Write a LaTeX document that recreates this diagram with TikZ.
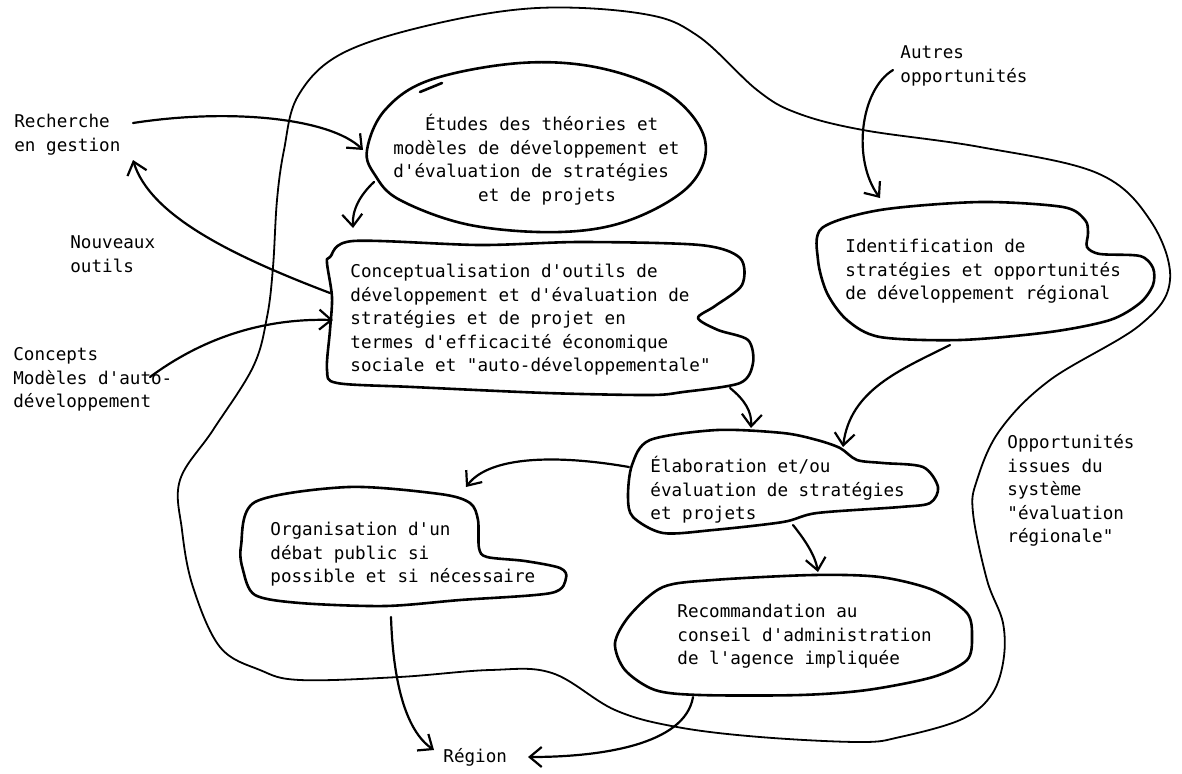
\documentclass[tikz,border=0pt]{standalone}
\usepackage{fontspec}
\setmonofont{DejaVu Sans Mono}
\usetikzlibrary{arrows.meta}
\begin{document}
\begin{tikzpicture}[x=0.5pt,y=-0.5pt,
  txt/.style={font=\fontsize{8.8}{11.75}\selectfont\ttfamily, align=left, inner sep=0pt, anchor=north west},
  blob/.style={line width=1.3pt, line join=round, line cap=round},
  bigloop/.style={line width=0.9pt},
  arr/.style={line width=1.1pt, line cap=round, -{Straight Barb[length=6pt,width=10pt,line width=1.1pt]}},
]
\useasboundingbox (0,0) rectangle (1182,773);

% outer loop
\draw[bigloop] plot[smooth cycle, tension=0.6] coordinates {
 (298,96) (341,54) (430,25) (537,8) (644,14) (698,36) (757,90) (797,113)
 (863,130) (980,147) (1097,173) (1150,220) (1170,280) (1140,325) (1050,380)
 (1000,430) (977,480) (973,513) (987,580) (1003,623) (1003,663) (990,697)
 (960,720) (900,737) (860,742) (760,737) (677,727) (615,710) (552,673)
 (490,670) (399,677) (300,680) (260,670) (220,647) (193,587) (182,530)
 (180,480) (213,430) (253,367) (267,317) (273,267) (277,200) (284,150)};

% blobs
\draw[blob] plot[smooth cycle, tension=0.6] coordinates {
 (367,150) (385,110) (430,80) (520,63) (600,68) (670,95) (705,140)
 (690,185) (630,220) (560,232) (470,225) (400,200) (375,175)};
\draw[blob] (420,92) -- (442,83);

\draw[blob] plot[smooth cycle, tension=0.5] coordinates {
 (330,257) (353,241) (480,245) (580,242) (700,245) (740,258) (742,285)
 (715,306) (698,318) (718,330) (748,340) (753,363) (740,383) (683,392)
 (650,395) (547,393) (413,387) (337,383) (327,370) (330,330) (332,297) (327,263)};

\draw[blob] plot[smooth cycle, tension=0.5] coordinates {
 (822,228) (880,210) (980,202) (1063,207) (1085,220) (1088,233) (1087,247)
 (1100,254) (1140,256) (1153,268) (1153,285) (1140,303) (1110,320)
 (1050,332) (960,340) (880,337) (847,320) (827,293) (818,260)};

\draw[blob] plot[smooth cycle, tension=0.5] coordinates {
 (650,440) (717,430) (783,433) (817,440) (840,448) (857,460) (883,463)
 (923,467) (938,487) (930,503) (900,507) (817,513) (783,522) (713,530)
 (663,533) (633,517) (628,497) (632,465)};

\draw[blob] plot[smooth cycle, tension=0.5] coordinates {
 (255,502) (348,487) (440,494) (470,503) (478,520) (479,548) (487,557)
 (525,561) (560,568) (566,578) (551,593) (460,600) (385,606) (300,603)
 (255,595) (243,570) (241,546)};

\draw[blob] plot[smooth cycle, tension=0.5] coordinates {
 (663,587) (713,580) (813,575) (880,577) (933,590) (967,613) (972,637)
 (967,660) (933,677) (867,690) (800,695) (700,695) (655,690) (625,670)
 (615,643) (630,615)};

% texts
\node[txt] (rech) at (14,111) {\strut Recherche\\en gestion};
\node[txt] (nouv) at (70,232) {\strut Nouveaux\\outils};
\node[txt] (conc) at (13,344) {\strut Concepts\\Modèles d'auto-\\développement};
\node[txt] (autres) at (900,42) {\strut Autres\\opportunités};
\node[txt] (opps) at (1007,432) {\strut Opportunités\\issues du\\système\\"évaluation\\régionale"};
\node[txt] (etudesT) at (393,114) {\strut\phantom{xxx}Études des théories et\\modèles de développement et\\d'évaluation de stratégies\\\phantom{xxxxxxxx}et de projets};
\node[txt] (concT) at (350,261) {\strut Conceptualisation d'outils de\\développement et d'évaluation de\\stratégies et de projet en\\termes d'efficacité économique\\sociale et "auto-développementale"};
\node[txt] (identT) at (845,236) {\strut Identification de\\stratégies et opportunités\\de développement régional};
\node[txt] (elabT) at (650,456) {\strut Élaboration et/ou\\évaluation de stratégies\\et projets};
\node[txt] (orgT) at (270,519) {\strut Organisation d'un\\débat public si\\possible et si nécessaire};
\node[txt] (recoT) at (677,601) {\strut Recommandation au\\conseil d'administration\\de l'agence impliquée};
\node[txt] (region) at (443,746) {\strut Région};

% connector end points
\coordinate (c1s) at (133,123); \coordinate (c1e) at (363,150);
\coordinate (c2s) at (374,182); \coordinate (c2e) at (353,228);
\coordinate (c3s) at (330,293); \coordinate (c3e) at (133,160);
\coordinate (c4s) at (150,377); \coordinate (c4e) at (333,320);
\coordinate (c5s) at (893,70);  \coordinate (c5e) at (880,198);
\coordinate (c6s) at (730,388); \coordinate (c6e) at (751,428);
\coordinate (c7s) at (950,345); \coordinate (c7e) at (843,447);
\coordinate (c8s) at (629,467); \coordinate (c8e) at (466,487);
\coordinate (c9s) at (793,525); \coordinate (c9e) at (818,572);
\coordinate (c10s) at (391,617); \coordinate (c10e) at (434,750);
\coordinate (c11s) at (693,697); \coordinate (c11e) at (528,757);

\draw[arr] (c1s) .. controls (230,108) and (330,118) .. (c1e);
\draw[arr] (c2s) .. controls (360,195) and (352,210) .. (c2e);
\draw[arr] (c3s) .. controls (230,255) and (150,215) .. (c3e);
\draw[arr] (c4s) .. controls (200,340) and (260,318) .. (c4e);
\draw[arr] (c5s) .. controls (860,90) and (852,160) .. (c5e);
\draw[arr] (c6s) .. controls (745,400) and (752,412) .. (c6e);
\draw[arr] (c7s) .. controls (900,370) and (850,390) .. (c7e);
\draw[arr] (c8s) .. controls (560,455) and (490,455) .. (c8e);
\draw[arr] (c9s) .. controls (805,540) and (815,555) .. (c9e);
\draw[arr] (c10s) .. controls (393,680) and (405,730) .. (c10e);
\draw[arr] (c11s) .. controls (685,745) and (600,757) .. (c11e);
\end{tikzpicture}
\end{document}
